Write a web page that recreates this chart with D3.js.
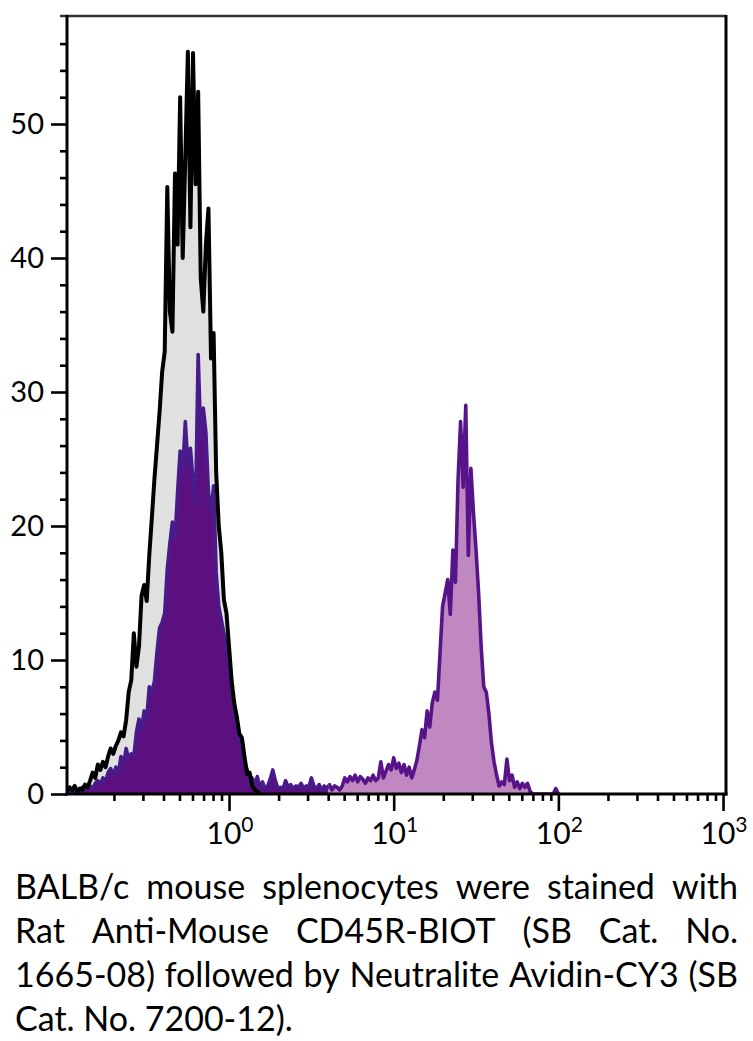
<!DOCTYPE html>
<html>
<head>
<meta charset="utf-8">
<script src="https://cdn.jsdelivr.net/npm/d3@7"></script>
<style>
  html, body { margin: 0; padding: 0; background: #fff; }
  svg { display: block; font-family: Lato, "Open Sans", sans-serif; }
</style>
</head>
<body>
<svg id="chart" width="753" height="1041"></svg>
<script>
// histogram channels: 64 per decade, channel 0 sits at 10^-1
var channelsPerDecade = 64;
var firstDecade = -1;

// control (unstained) cells, counts per channel
var controlCounts = [
  0, 0.2, 0.5, 0.3, 0.6, 0.2, 0.4, 0.3, 0.7, 0.5,
  1.0, 1.6, 1.2, 2.2, 1.8, 2.4, 2.0, 2.8, 3.4, 3.0,
  3.6, 4.0, 4.6, 4.3, 5.5, 7.6, 8.5, 12.0, 9.5, 11.0,
  14.8, 15.6, 14.4, 17.8, 20.6, 23.5, 26.0, 28.5, 31.5, 33.0,
  45.3, 36.0, 34.5, 46.3, 41.0, 52.0, 40.0, 47.5, 55.4, 42.3,
  55.3, 45.5, 52.4, 38.5, 36.0, 41.0, 43.7, 32.5, 34.4, 24.0,
  20.0, 18.0, 14.5, 13.5, 11.0, 8.5, 6.8, 5.8, 4.5, 4.2,
  2.8, 1.5, 1.6, 0.6, 0.3, 0.2, 0
];

// CD45R-BIOT + Avidin-CY3 stained cells, counts per channel
var stainedCounts = [
  0, 0.1, 0.3, 0.2, 0.4, 0.1, 0.3, 0.5, 0.3, 0.4,
  0.6, 0.4, 0.8, 1.0, 0.7, 1.2, 0.9, 1.6, 1.9, 1.4,
  2.0, 1.6, 2.8, 2.2, 3.4, 2.6, 3.0, 2.8, 4.6, 5.6,
  4.8, 6.2, 5.6, 8.0, 7.6, 8.4, 10.6, 12.4, 12.8, 13.5,
  16.8, 18.7, 20.3, 19.0, 22.5, 25.6, 24.0, 27.8, 24.6, 25.8,
  23.4, 21.5, 32.8, 26.5, 28.8, 27.0, 22.5, 21.0, 23.0, 16.5,
  14.0, 13.0, 12.0, 11.0, 9.5, 8.0, 6.5, 4.8, 4.0, 3.0,
  2.4, 1.8, 0.6, 1.2, 0.7, 1.3, 0.5, 0.9, 0.4, 0.6,
  1.1, 1.8, 1.0, 0.4, 0.5, 0.4, 1.0, 0.5, 0.7, 0.4,
  0.6, 0.5, 0.8, 0.4, 0.6, 0.5, 1.2, 0.6, 0.4, 0.7,
  0.3, 0.6, 0.4, 0.7, 0.3, 0.6, 0.5, 0.3, 0.6, 1.2,
  0.9, 1.3, 1.0, 1.4, 0.9, 1.3, 1.1, 0.8, 1.2, 1.0,
  1.4, 1.0, 1.2, 2.4, 1.2, 1.7, 2.2, 1.8, 2.7, 1.9,
  2.3, 1.6, 2.2, 1.4, 2.0, 1.2, 1.8, 2.5, 3.6, 4.8,
  4.2, 6.2, 5.0, 6.8, 7.6, 7.0, 10.5, 14.0, 15.0, 16.0,
  13.4, 18.2, 15.8, 23.4, 27.8, 22.9, 29.0, 17.8, 24.3, 21.0,
  18.2, 15.0, 11.0, 8.0, 7.6, 6.0, 3.8, 2.4, 1.4, 0.6,
  0.9, 0.7, 2.6, 1.0, 1.4, 0.5, 0.9, 0.4, 0.8, 0.5,
  0.8, 0.2, 0, 0, 0, 0, 0, 0, 0, 0,
  0, 0.4, 0
];

// negative / positive gate on the stained histogram
var gateValue = 4;

var yMajorTicks = [0, 10, 20, 30, 40, 50];
var yMinorTicks = [2, 4, 6, 8, 12, 14, 16, 18, 22, 24, 26, 28, 32, 34, 36, 38, 42, 44, 46, 48, 52, 54, 56];
var xDecades = [1, 10, 100, 1000];
var xExponents = ["0", "1", "2", "3"];
var xMinorSteps = [2, 3, 4, 5, 6, 7, 8, 9];

var captionLines = [
  "BALB/c mouse splenocytes were stained with",
  "Rat Anti-Mouse CD45R-BIOT (SB Cat. No.",
  "1665-08) followed by Neutralite Avidin-CY3 (SB",
  "Cat. No. 7200-12)."
];

var plotLeft = 67, plotRight = 726, plotTop = 16, plotBottom = 794;

var svg = d3.select("#chart");

//scales
var xScale = d3.scaleLog()
    .domain([Math.pow(10, -0.984), Math.pow(10, 3.018)])
    .range([plotLeft, plotRight]);
var yScale = d3.scaleLinear()
    .domain([0, 58.06])
    .range([plotBottom, plotTop]);

function toPoints(counts) {
    return counts.map(function(c, i) {
        return {v: Math.pow(10, firstDecade + i / channelsPerDecade), count: c};
    });
}
var control = toPoints(controlCounts);
var stained = toPoints(stainedCounts);

//clip paths
var defs = svg.append("defs");
defs.append("clipPath").attr("id", "plot")
  .append("rect")
    .attr("x", plotLeft).attr("y", plotTop)
    .attr("width", plotRight - plotLeft).attr("height", plotBottom - plotTop);
defs.append("clipPath").attr("id", "neg")
  .append("rect")
    .attr("x", plotLeft).attr("y", plotTop)
    .attr("width", xScale(gateValue) - plotLeft).attr("height", plotBottom - plotTop);
defs.append("clipPath").attr("id", "pos")
  .append("rect")
    .attr("x", xScale(gateValue)).attr("y", plotTop)
    .attr("width", plotRight - xScale(gateValue)).attr("height", plotBottom - plotTop);

var area = d3.area()
    .x(function(d) { return xScale(d.v); })
    .y0(yScale(0))
    .y1(function(d) { return yScale(d.count); });
var line = d3.line()
    .x(function(d) { return xScale(d.v); })
    .y(function(d) { return yScale(d.count); });

var plot = svg.append("g").attr("clip-path", "url(#plot)");

//control fill
plot.append("path").datum(control)
    .attr("d", area)
    .attr("fill", "#e0e0e0");

//stained fill, dark under the negative peak, light under the positive one
plot.append("g").attr("clip-path", "url(#neg)")
  .append("path").datum(stained)
    .attr("d", area)
    .attr("fill", "#5c0f7f");
plot.append("g").attr("clip-path", "url(#pos)")
  .append("path").datum(stained)
    .attr("d", area)
    .attr("fill", "#c088c0");

plot.append("g").attr("clip-path", "url(#neg)")
  .append("path").datum(stained)
    .attr("d", line)
    .attr("fill", "none")
    .attr("stroke", "#481a8a")
    .attr("stroke-width", 3.6)
    .attr("stroke-linejoin", "round");
plot.append("g").attr("clip-path", "url(#pos)")
  .append("path").datum(stained)
    .attr("d", line)
    .attr("fill", "none")
    .attr("stroke", "#571488")
    .attr("stroke-width", 3.6)
    .attr("stroke-linejoin", "round");

//control outline
plot.append("path").datum(control)
    .attr("d", line)
    .attr("fill", "none")
    .attr("stroke", "#000")
    .attr("stroke-width", 4)
    .attr("stroke-linejoin", "round");

//y axis ticks
var yMinorAxis = svg.append("g")
    .attr("transform", "translate(" + plotLeft + ",0)")
    .call(d3.axisLeft(yScale).tickValues(yMinorTicks).tickSize(7).tickFormat(""));
var yMajorAxis = svg.append("g")
    .attr("transform", "translate(" + plotLeft + ",0)")
    .call(d3.axisLeft(yScale).tickValues(yMajorTicks).tickSize(16).tickPadding(7)
        .tickFormat(d3.format("d")));

//x axis ticks
var xMinor = [];
[0.1, 1, 10, 100].forEach(function(d) {
    xMinorSteps.forEach(function(s) { xMinor.push(d * s); });
});
var xMinorAxis = svg.append("g")
    .attr("transform", "translate(0," + plotBottom + ")")
    .call(d3.axisBottom(xScale).tickValues(xMinor).tickSize(7).tickFormat(""));
var xMajorAxis = svg.append("g")
    .attr("transform", "translate(0," + plotBottom + ")")
    .call(d3.axisBottom(xScale).tickValues(xDecades).tickSize(17).tickFormat(""));

svg.selectAll(".domain").remove();
svg.selectAll(".tick line")
    .attr("stroke", "#000")
    .attr("stroke-width", 2.6);
yMajorAxis.selectAll("text")
    .attr("font-size", 29)
    .attr("font-family", "Lato, 'Open Sans', sans-serif")
    .attr("fill", "#000");

//decade labels with superscript
var xLabels = svg.append("g").selectAll("text")
    .data(xDecades)
    .enter().append("text")
    .attr("x", function(d) { return xScale(d) + 1; })
    .attr("y", 844)
    .attr("text-anchor", "middle")
    .attr("font-size", 30)
    .attr("fill", "#000");
xLabels.append("tspan").text("10");
xLabels.append("tspan")
    .attr("dy", -12)
    .attr("font-size", 21)
    .text(function(d, i) { return xExponents[i]; });

//frame
svg.append("line")
    .attr("x1", plotLeft - 7).attr("x2", plotRight)
    .attr("y1", plotTop).attr("y2", plotTop)
    .attr("stroke", "#333").attr("stroke-width", 2.5);
svg.append("line")
    .attr("x1", plotRight).attr("x2", plotRight)
    .attr("y1", plotTop - 1).attr("y2", plotBottom + 1.5)
    .attr("stroke", "#000").attr("stroke-width", 3);
svg.append("line")
    .attr("x1", plotLeft).attr("x2", plotLeft)
    .attr("y1", plotTop - 1).attr("y2", plotBottom + 1.5)
    .attr("stroke", "#000").attr("stroke-width", 3);
svg.append("line")
    .attr("x1", plotLeft - 1.5).attr("x2", plotRight + 1.5)
    .attr("y1", plotBottom).attr("y2", plotBottom)
    .attr("stroke", "#000").attr("stroke-width", 3);

//caption, justified like the source
var capLeft = 15, capWidth = 723, capBaseline = 899, capPitch = 44;
var caption = svg.append("g").attr("fill", "#000");

var fontSize = 32;
var probe = caption.append("text").attr("font-size", fontSize).text(captionLines[2]);
fontSize = Math.min(34, fontSize * capWidth / probe.node().getComputedTextLength());
probe.remove();

captionLines.forEach(function(txt, li) {
    var t = caption.append("text")
        .attr("font-size", fontSize)
        .attr("y", capBaseline + li * capPitch);
    if (li === captionLines.length - 1) {
        t.attr("x", capLeft).text(txt);
        return;
    }
    var words = txt.split(" ");
    var widths = words.map(function(w) {
        var p = caption.append("text").attr("font-size", fontSize).text(w);
        var wd = p.node().getComputedTextLength();
        p.remove();
        return wd;
    });
    var gap = (capWidth - d3.sum(widths)) / (words.length - 1);
    var xPos = capLeft;
    words.forEach(function(w, wi) {
        t.append("tspan").attr("x", xPos).text(w);
        xPos += widths[wi] + gap;
    });
});
</script>
</body>
</html>
